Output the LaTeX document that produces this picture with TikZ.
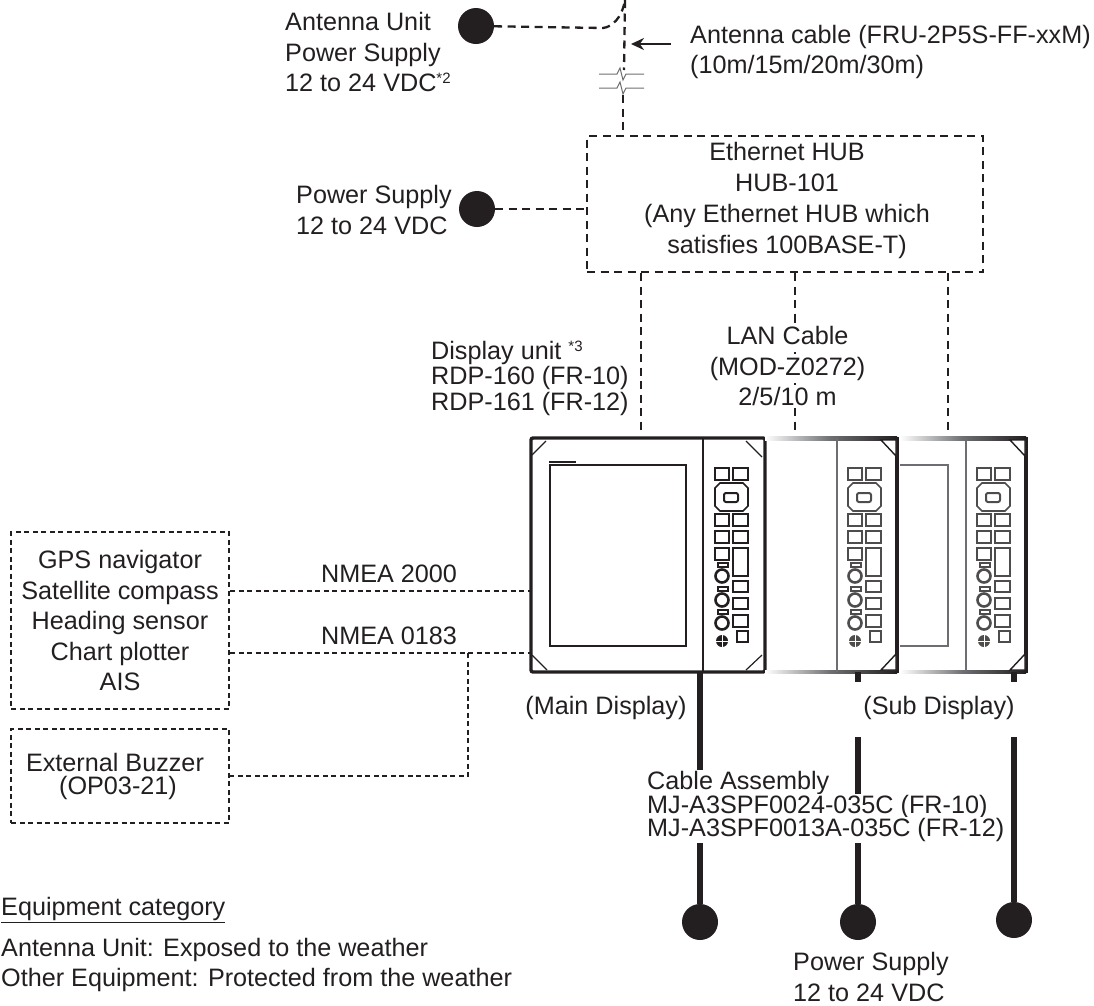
\documentclass[tikz,border=0pt]{standalone}
\usepackage{fontspec}
\setmainfont{Liberation Sans}
\usepackage{tikz}
\usetikzlibrary{arrows.meta}
\definecolor{ink}{HTML}{231F20}
\definecolor{fade}{HTML}{6D6E71}
\tikzset{
	lbl/.style={font=\fontsize{25.2}{30.5}\selectfont,inner sep=0pt,text=ink,align=left},
	ctr/.style={lbl,align=center},
	tight/.style={lbl,fill=white,inner sep=1pt},
	pwrdot/.style={circle,fill=ink,minimum size=36pt,inner sep=0pt},
	antcable/.style={ink,line width=2.3pt,dash pattern=on 8pt off 5.5pt},
	sigcable/.style={ink,line width=1.7pt,dash pattern=on 5pt off 3.5pt},
	pwrcable/.style={ink,line width=5.3pt},
	unitbox/.style={draw=ink,line width=2pt,dash pattern=on 5pt off 3.5pt,minimum width=218pt,inner sep=0pt}
}
\newcommand{\SmallStar}[1]{{\fontsize{15}{15}\selectfont\raisebox{8pt}{*#1}}}
\newcommand{\Keypad}[2]{
	\begin{scope}[xshift=#1 pt,draw=#2,line width=1.7pt]
		%top keys
		\draw (12,468) rectangle (26,480);
		\draw (30,468) rectangle (45,480);
		%dial
		\draw (17,483)--(40,483)--(45,488)--(45,506)--(40,511)--(17,511)--(12,506)--(12,488)--cycle;
		\draw[rounded corners=2pt,line width=2pt] (21,493) rectangle (35,502);
		%left column
		\foreach \ya/\yb in {514/526,531/543,548/560}{
			\draw (12,\ya) rectangle (26,\yb);
		}
		%right column
		\foreach \ya/\yb in {514/526,531/543,548/576,581/592,598/609,615/627}{
			\draw (30,\ya) rectangle (45,\yb);
		}
		\draw (34,631) rectangle (45,642);
		%knobs
		\foreach \yk in {576,600,623}{
			\draw (15,\yk-13) rectangle (25,\yk-9);
			\draw[line width=2.6pt] (19,\yk) circle (6.5);
		}
		%speaker
		\fill[#2] (19,641) circle (6);
		\draw[white,line width=.4pt] (13,641)--(25,641) (19,635)--(19,647);
	\end{scope}
}
\newcommand{\SubUnit}[2]{
	\begin{scope}[xshift=#1 pt]
		%fading edges
		\shade[left color=white,right color=ink,middle color=fade] (#2,436.5) rectangle (60,440);
		\shade[left color=white,right color=ink,middle color=fade] (#2,670) rectangle (60,673.5);
		%divider
		\draw[fade,line width=1.4pt] (0,438)--(0,672);
		%right edge
		\draw[ink,line width=3.4pt] (60,437)--(60,673);
		%corners
		\draw[ink,line width=1.4pt,fill=white] (44,440)--(59,440)--(59,456)--cycle;
		\draw[ink,line width=1.4pt,fill=white] (44,670)--(59,670)--(59,654)--cycle;
	\end{scope}
}
\begin{document}
\begin{tikzpicture}[x=1pt,y=-1pt]
	\useasboundingbox (0,0) rectangle (1094,1005);
	%power supplies
	\node[pwrdot] (antdot) at (476,26) {};
	\node[pwrdot] (hubdot) at (477,209) {};
	\node[pwrdot] (dotA) at (700,922) {};
	\node[pwrdot] (dotB) at (858,922) {};
	\node[pwrdot] (dotC) at (1014,920) {};
	\node[lbl,anchor=west] (antsup) at (285,52) {Antenna Unit\\Power Supply\\12 to 24 VDC\SmallStar{2}};
	\node[lbl,anchor=west] (hubsup) at (296,210) {Power Supply\\12 to 24 VDC};
	\node[lbl,anchor=west] (dispsup) at (793,977) {Power Supply\\12 to 24 VDC};
	%antenna cable
	\coordinate (anttop) at (625,0);
	\coordinate (antbend) at (603,28);
	\coordinate (brkA) at (624,70);
	\coordinate (brkB) at (623,95);
	\coordinate (tipA) at (631,44);
	\coordinate (tailA) at (671,44);
	\draw[antcable] (antdot) -- (antbend) .. controls (612,27) and (622,18) .. (anttop);
	\draw[antcable] (anttop) -- (brkA);
	\foreach \yb in {74,88}{
		\draw[fade,line width=1pt] (599,\yb)--(617,\yb)--(620,\yb-6)--(623,\yb+6)--(626,\yb)--(644,\yb);
	}
	\draw[-{Stealth[length=13pt,width=12pt]},ink,line width=2.4pt] (tailA) -- (tipA);
	\node[lbl,anchor=west] (antlbl) at (690,52) {Antenna cable (FRU-2P5S-FF-xxM)\\(10m/15m/20m/30m)};
	%hub
	\node[draw=ink,antcable,minimum width=396pt,minimum height=136pt,inner sep=0pt] (hub) at (785,204) {};
	\node[ctr,font=\fontsize{25.2}{31}\selectfont] (hubtxt) at (787,200) {Ethernet HUB\\HUB-101\\(Any Ethernet HUB which\\satisfies 100BASE-T)};
	\draw[antcable] (brkB) -- (hub.north -| brkB);
	\draw[antcable] (hubdot) -- (hub.west |- hubdot);
	%main display
	\draw[ink,line width=3.4pt,rounded corners=2pt] (531,438) rectangle (765,672);
	\draw[ink,line width=1.4pt] (703,438)--(703,672);
	\draw[ink,line width=1.2pt] (550,465) rectangle (686,646);
	\draw[ink,line width=2.6pt] (549,462)--(576,462);
	\draw[ink,line width=1.2pt] (546,441)--(532,455) (746,441)--(762,457) (532,655)--(547,670) (762,655)--(746,670);
	\Keypad{703}{ink}
	%sub displays
	\SubUnit{837}{-72}
	\SubUnit{966}{-66}
	\draw[fade,line width=1.4pt] (900,465)--(948,465)--(948,646)--(900,646);
	\Keypad{836}{ink!80!white}
	\Keypad{965}{ink!80!white}
	%LAN cables
	\coordinate (lanA) at (641,432);
	\coordinate (lanB) at (795,432);
	\coordinate (lanC) at (948,432);
	\draw[antcable] (hub.south -| lanA) -- (lanA);
	\draw[antcable] (hub.south -| lanB) -- (lanB);
	\draw[antcable] (hub.south -| lanC) -- (lanC);
	\node[ctr,fill=white,inner sep=1pt] (lanlbl) at (787.5,366) {LAN Cable\\(MOD-Z0272)\\2/5/10 m};
	\foreach \yt in {322,353,384}{
		\draw[ink,line width=1.4pt] (795,\yt-1)--(795,\yt+1);
	}
	\node[lbl,anchor=west,font=\fontsize{25.2}{25.5}\selectfont] (displbl) at (431,378) {Display unit \SmallStar{3}\\RDP-160 (FR-10)\\RDP-161 (FR-12)};
	\node[lbl] (mainlbl) at (606,708) {(Main Display)};
	\node[lbl] (sublbl) at (939,708) {(Sub Display)};
	%power cables
	\coordinate (stubA) at (700,672);
	\coordinate (stubB) at (858,672);
	\coordinate (stubC) at (1014,672);
	\coordinate (stubBe) at (858,682);
	\coordinate (stubCe) at (1014,682);
	\coordinate (cabB) at (858,737);
	\coordinate (cabC) at (1014,737);
	\draw[pwrcable] (stubA) -- (dotA);
	\draw[pwrcable] (stubB) -- (stubBe);
	\draw[pwrcable] (cabB) -- (dotB);
	\draw[pwrcable] (stubC) -- (stubCe);
	\draw[pwrcable] (cabC) -- (dotC);
	\node[tight,anchor=west] (cabA) at (646,783) {Cable Assembly};
	\node[tight,anchor=west] (cabM) at (646,807) {MJ-A3SPF0024-035C (FR-10)};
	\node[tight,anchor=west] (cabN) at (646,830) {MJ-A3SPF0013A-035C (FR-12)};
	%external units
	\node[ctr,unitbox,minimum height=177pt] (gps) at (120,620.5) {GPS navigator\\Satellite compass\\Heading sensor\\Chart plotter\\AIS};
	\node[ctr,unitbox,minimum height=94pt,font=\fontsize{25.2}{23}\selectfont] (buz) at (120,776) {External Buzzer\rule{10pt}{0pt}\\(OP03-21)\rule{4pt}{0pt}};
	\coordinate (portA) at (530,591);
	\coordinate (portB) at (530,653);
	\coordinate (jct) at (468,653);
	\coordinate (jctb) at (468,776);
	\draw[sigcable] (gps.east |- portA) -- (portA);
	\draw[sigcable] (gps.east |- portB) -- (portB);
	\draw[sigcable] (jct) -- (jctb) -- (buz.east |- jctb);
	\node[lbl] (nmeaA) at (389,574) {NMEA 2000};
	\node[lbl] (nmeaB) at (389,636) {NMEA 0183};
	%legend
	\node[lbl,anchor=west] (cattitle) at (1,910) {\underline{Equipment category}};
	\node[lbl,anchor=west] (cattext) at (1,965) {Antenna Unit: Exposed to the weather\\Other Equipment: Protected from the weather};
\end{tikzpicture}
\end{document}
